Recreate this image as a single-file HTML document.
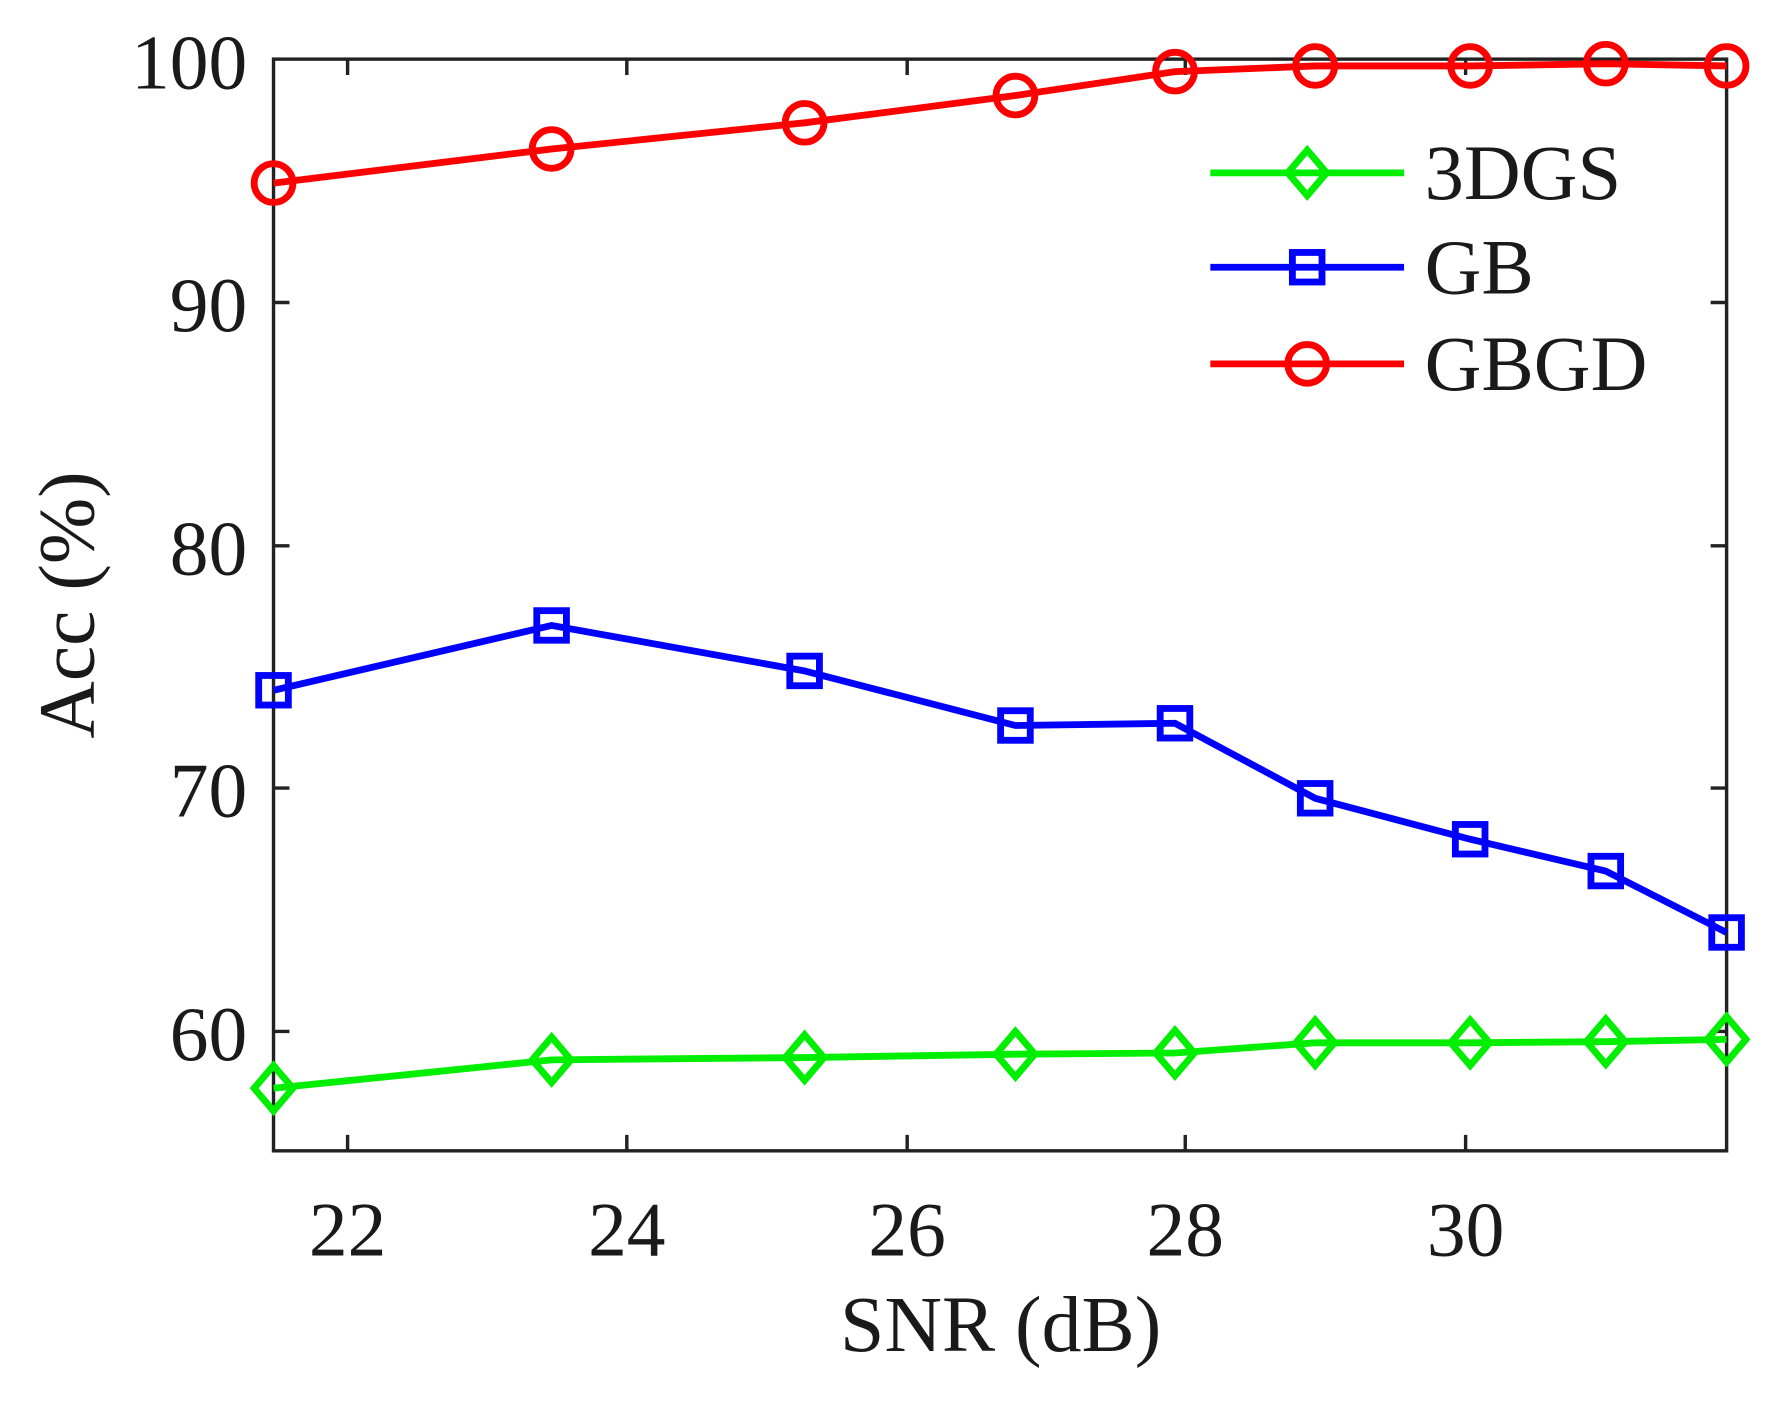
<!DOCTYPE html>
<html><head><meta charset="utf-8"><style>html,body{margin:0;padding:0;background:#fff}svg{display:block}</style></head>
<body>
<svg width="1787" height="1401" viewBox="0 0 1568 1232" preserveAspectRatio="none" xmlns="http://www.w3.org/2000/svg" font-family="Liberation Serif, serif">
<rect width="1568" height="1232" fill="#fff"/>
<g stroke="#222" stroke-width="3" fill="none">
<rect x="240" y="52" width="1275" height="960"/>
<path d="M240 266h14M240 480h14M240 693h14M240 907h14M1515 266h-14M1515 480h-14M1515 693h-14M1515 907h-14"/>
<path d="M305 1012v-14M550 1012v-14M796 1012v-14M1040 1012v-14M1286 1012v-14M305 52v14M550 52v14M796 52v14M1040 52v14M1286 52v14"/>
</g>
<g font-size="68" fill="#1a1a1a" text-anchor="end">
<text x="217" y="78">100</text><text x="217" y="291">90</text><text x="217" y="505">80</text><text x="217" y="718">70</text><text x="217" y="932">60</text>
</g>
<g font-size="68" fill="#1a1a1a" text-anchor="middle">
<text x="305" y="1104">22</text><text x="550" y="1104">24</text><text x="796" y="1104">26</text><text x="1040" y="1104">28</text><text x="1286" y="1104">30</text>
<text x="878" y="1188" font-size="70">SNR (dB)</text>
<text transform="translate(82,532) rotate(-90)" font-size="70">Acc (%)</text>
</g>
<g fill="none" stroke-width="6">
<polyline stroke="#ff0000" points="240,161 484,131 706,108 891,84 1031,63 1154,58 1290,58 1409,56 1515,58"/>
<g stroke="#ff0000"><circle cx="240" cy="161" r="17"/><circle cx="484" cy="131" r="17"/><circle cx="706" cy="108" r="17"/><circle cx="891" cy="84" r="17"/><circle cx="1031" cy="63" r="17"/><circle cx="1154" cy="58" r="17"/><circle cx="1290" cy="58" r="17"/><circle cx="1409" cy="56" r="17"/><circle cx="1515" cy="58" r="17"/></g>
<polyline stroke="#0000ff" points="240,607 484,550 706,590 891,638 1031,636 1154,702 1290,738 1409,766 1515,820"/>
<g stroke="#0000ff"><rect x="227" y="594" width="26" height="26"/><rect x="471" y="537" width="26" height="26"/><rect x="693" y="577" width="26" height="26"/><rect x="878" y="625" width="26" height="26"/><rect x="1018" y="623" width="26" height="26"/><rect x="1141" y="689" width="26" height="26"/><rect x="1277" y="725" width="26" height="26"/><rect x="1396" y="753" width="26" height="26"/><rect x="1502" y="807" width="26" height="26"/></g>
<polyline stroke="#00ee00" points="240,957 484,932 706,930 891,927 1031,926 1154,917 1290,917 1409,916 1515,914"/>
<g stroke="#00ee00">
<path d="M240 937l17 20-17 20-17-20z"/><path d="M484 912l17 20-17 20-17-20z"/><path d="M706 910l17 20-17 20-17-20z"/><path d="M891 907l17 20-17 20-17-20z"/><path d="M1031 906l17 20-17 20-17-20z"/><path d="M1154 897l17 20-17 20-17-20z"/><path d="M1290 897l17 20-17 20-17-20z"/><path d="M1409 896l17 20-17 20-17-20z"/><path d="M1515 894l17 20-17 20-17-20z"/>
</g>
<path stroke="#00ee00" d="M1062 152h170M1147 132l17 20-17 20-17-20z"/>
<path stroke="#0000ff" d="M1062 235h170"/><rect stroke="#0000ff" x="1134" y="222" width="26" height="26"/>
<path stroke="#ff0000" d="M1062 320h170"/><circle stroke="#ff0000" cx="1147" cy="320" r="17"/>
</g>
<g font-size="69" fill="#1a1a1a">
<text x="1250" y="175">3DGS</text><text x="1250" y="258">GB</text><text x="1250" y="343">GBGD</text>
</g>
</svg>
</body></html>
